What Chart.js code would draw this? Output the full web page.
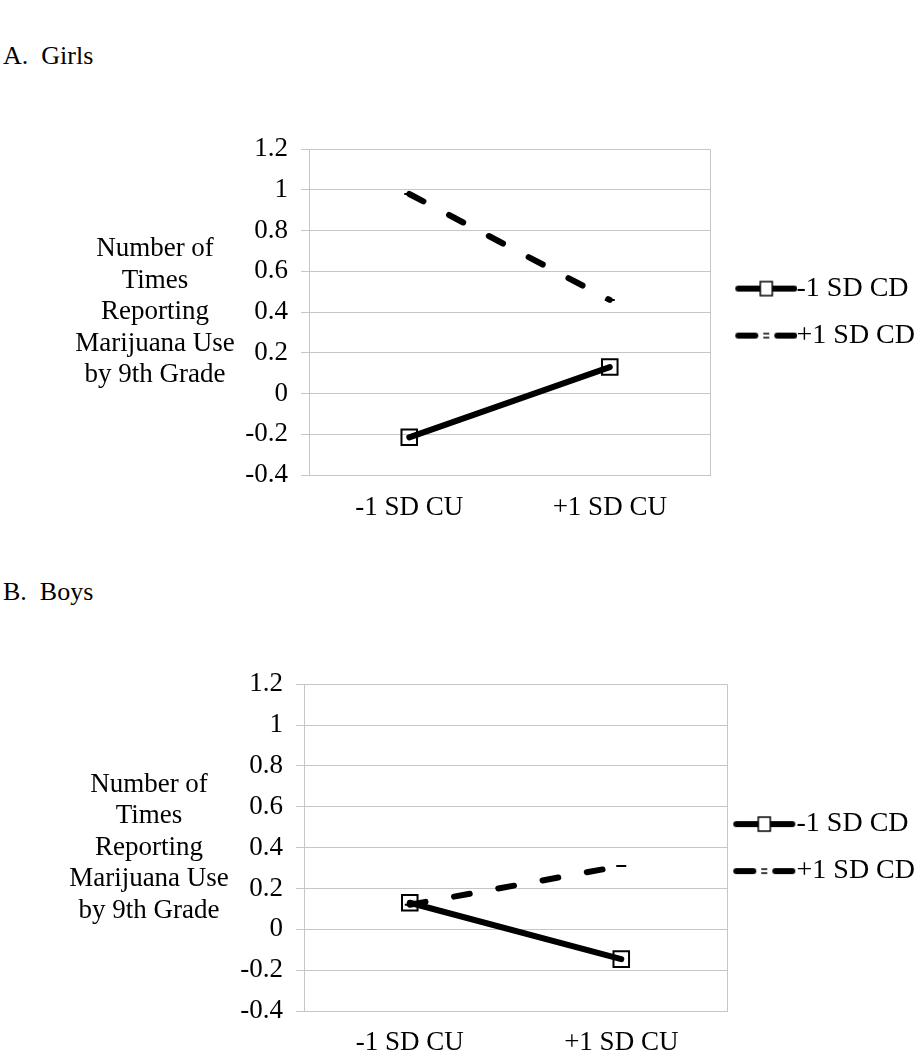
<!DOCTYPE html>
<html lang="en">
<head>
<meta charset="UTF-8">
<title>Marijuana Use by 9th Grade</title>
<script src="https://cdn.jsdelivr.net/npm/chart.js"></script>
<style>
  body { margin: 0; width: 916px; height: 1050px; position: relative; overflow: hidden; background: #fff; font-family: "Liberation Serif", serif; }
  .panel { position: absolute; left: 3px; font-size: 26px; white-space: pre; color: #000; }
  canvas { position: absolute; left: 0; }
</style>
</head>
<body>
<div class="panel" style="top:41px">A.  Girls</div>
<div class="panel" style="top:577px">B.  Boys</div>
<canvas id="girlsChart" width="925" height="420" style="top:120px"></canvas>
<canvas id="boysChart" width="925" height="395" style="top:655px"></canvas>
<script>
// values
const categories = ['-1 SD CU', '+1 SD CU'];
const seriesNames = ['-1 SD CD', '+1 SD CD'];
const girlsLowCD = [-0.215, 0.13];
const girlsHighCD = [0.98, 0.46];
const boysLowCD = [0.13, -0.146];
const boysHighCD = [0.12, 0.31];
const yAxisTitle = ['Number of', 'Times', 'Reporting', 'Marijuana Use', 'by 9th Grade'];
const yMin = -0.4, yMax = 1.2, yStep = 0.2;

Chart.defaults.font.family = '"Liberation Serif", serif';
Chart.defaults.color = '#000';

const gridColor = '#c6c6c6';

// legend swatch pictures (line + marker), drawn once
function makeSwatch(kind, w, offset) {
  const c = document.createElement('canvas');
  c.width = w; c.height = 22;
  const g = c.getContext('2d');
  g.strokeStyle = '#000';
  g.lineCap = 'round';
  g.lineWidth = 6;
  const y = 11, x0 = offset + 3, x1 = offset + 59, cx = offset + 31;
  if (kind === 'solid') {
    g.beginPath(); g.moveTo(x0, y); g.lineTo(x1, y); g.stroke();
    g.fillStyle = '#fff';
    g.lineWidth = 1.5;
    g.fillRect(cx - 6, y - 7, 12, 14);
    g.strokeRect(cx - 6, y - 7, 12, 14);
  } else {
    g.beginPath(); g.moveTo(x0, y); g.lineTo(offset + 20, y); g.stroke();
    g.beginPath(); g.moveTo(offset + 42, y); g.lineTo(x1, y); g.stroke();
    g.lineWidth = 1.5; g.lineCap = 'butt';
    g.beginPath();
    g.moveTo(cx - 3, y - 2); g.lineTo(cx + 3, y - 2);
    g.moveTo(cx - 3, y + 2); g.lineTo(cx + 3, y + 2);
    g.stroke();
  }
  return c;
}

// y axis title is horizontal, multi-line, left of the axis
const axisTitle = {
  id: 'axisTitle',
  afterDraw(chart, args, opts) {
    const ctx = chart.ctx, area = chart.chartArea;
    const lh = 31.5;
    const top = (area.top + area.bottom) / 2 - (yAxisTitle.length - 1) * lh / 2;
    ctx.save();
    ctx.font = '27px "Liberation Serif", serif';
    ctx.fillStyle = '#000';
    ctx.textAlign = 'center';
    ctx.textBaseline = 'middle';
    yAxisTitle.forEach((t, i) => ctx.fillText(t, opts.x, top + i * lh));
    ctx.restore();
  }
};

function makeChart(id, low, high, cfg) {
  const swatches = [
    makeSwatch('solid', cfg.swatchW, cfg.swatchOff),
    makeSwatch('dash', cfg.swatchW, cfg.swatchOff)
  ];
  const ctx = document.getElementById(id).getContext('2d');
  return new Chart(ctx, {
    type: 'line',
    data: {
      labels: categories,
      datasets: [{
        label: seriesNames[0],
        data: low,
        borderColor: '#000',
        borderWidth: 6,
        borderCapStyle: 'round',
        pointStyle: 'rect',
        pointRadius: 11,
        pointBorderWidth: 2,
        pointBorderColor: '#000',
        pointBackgroundColor: 'rgba(0,0,0,0)',
        tension: 0
      }, {
        label: seriesNames[1],
        data: high,
        borderColor: '#000',
        borderWidth: 6,
        borderDash: [16, 29],
        borderCapStyle: 'round',
        pointStyle: 'line',
        pointRadius: 5,
        pointBorderWidth: 2,
        pointBorderColor: '#000',
        tension: 0
      }]
    },
    options: {
      responsive: false,
      animation: false,
      layout: { padding: { top: 23, left: 0, right: 0, bottom: 0 } },
      plugins: {
        tooltip: { enabled: false },
        axisTitle: { x: cfg.titleX },
        legend: {
          position: 'right',
          fullSize: false,
          labels: {
            usePointStyle: true,
            pointStyleWidth: cfg.boxW,
            padding: 19,
            font: { size: 28 },
            color: '#000',
            generateLabels: () => seriesNames.map((name, i) => ({
              text: name,
              pointStyle: swatches[i],
              fillStyle: '#000',
              strokeStyle: '#000',
              lineWidth: 0,
              hidden: false,
              datasetIndex: i
            }))
          }
        }
      },
      scales: {
        x: {
          offset: true,
          // only the outer frame lines, not the middle one
          grid: {
            offset: true,
            drawTicks: false,
            color: c => c.index === 1 ? 'rgba(0,0,0,0)' : gridColor
          },
          border: { display: true, color: gridColor },
          ticks: { font: { size: 27 }, color: '#000', padding: cfg.xPad },
          afterFit: s => { s.height = cfg.xH; }
        },
        y: {
          min: yMin,
          max: yMax,
          grid: { color: gridColor, tickLength: 8, tickColor: gridColor },
          border: { display: true, color: gridColor },
          ticks: {
            stepSize: yStep,
            font: { size: 27 },
            color: '#000',
            padding: 13,
            callback: v => String(Math.round(v * 10) / 10)
          },
          afterFit: s => { s.width = cfg.plotLeft; }
        }
      }
    },
    plugins: [axisTitle]
  });
}

function drawAll() {
  makeChart('girlsChart', girlsLowCD, girlsHighCD, {
    plotLeft: 309, titleX: 155, xPad: 17, xH: 65, boxW: 53.5, swatchW: 83, swatchOff: 21
  });
  makeChart('boysChart', boysLowCD, boysHighCD, {
    plotLeft: 304, titleX: 149, xPad: 16, xH: 39, boxW: 36.5, swatchW: 66, swatchOff: 2
  });
}

if (document.fonts && document.fonts.load) {
  document.fonts.load('27px "Liberation Serif"').then(drawAll, drawAll);
} else {
  drawAll();
}
</script>
</body>
</html>
